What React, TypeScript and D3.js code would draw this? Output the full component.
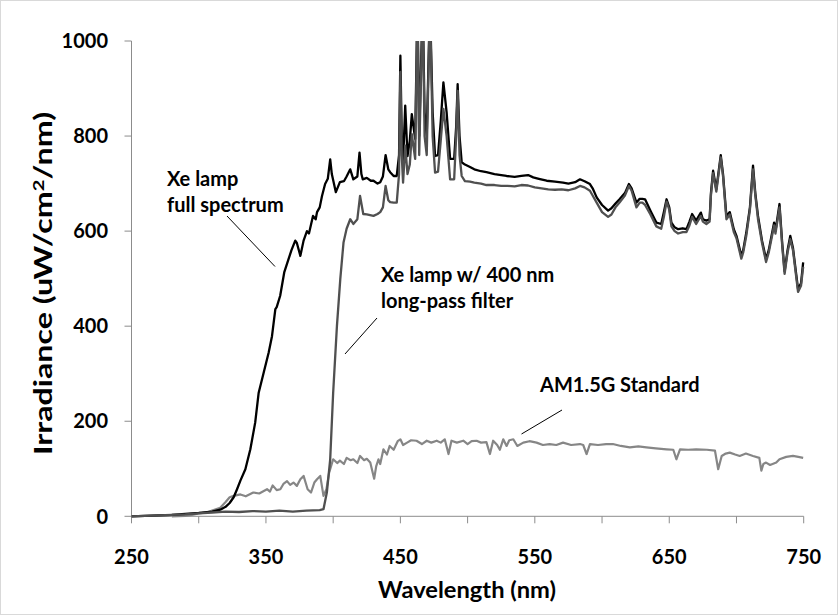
import React from "react";
import * as d3 from "d3";

// [wavelength nm, irradiance uW/cm2/nm]
const xeFull: [number, number][] = [
  [250, 0], [260, 1], [270, 2], [280, 3], [290, 5], [300, 7], [310, 10], [316, 14], [320, 20], [323, 28],
  [326, 40], [328.5, 57], [331, 75], [334.7, 99], [338.4, 141], [342, 197], [344.6, 260], [348.3, 302],
  [352, 344], [354.5, 379], [357, 436], [358, 440], [360.6, 464], [363.6, 513], [366.8, 541], [369, 560],
  [371.8, 580], [373, 575], [375.6, 548], [378, 580], [380.5, 600], [382, 595], [385, 632], [387, 625],
  [388, 640], [390, 650], [391.7, 674], [394, 699], [396, 710], [397.8, 751], [399, 720], [402, 682],
  [405, 703], [408, 705], [410, 715], [412.7, 730], [415, 709], [418, 715], [419.6, 765], [421, 720],
  [422, 709], [425, 712], [428, 706], [430, 706], [433, 700], [435, 703], [437, 715], [439, 760],
  [441, 730], [442.4, 724], [445, 716], [447.3, 716], [449, 760], [450, 969], [451, 800], [452, 745],
  [453.6, 864], [455.3, 758], [457, 790], [458.5, 846], [461, 794], [462.7, 1080], [464, 800],
  [466.6, 1080], [468, 850], [469.6, 800], [472, 1080], [474, 850], [475.8, 758], [478, 760], [480, 830],
  [482, 913], [484.4, 850], [487, 752], [490, 752], [491.5, 820], [492.6, 909], [494, 800], [495.6, 745],
  [498, 740], [501.8, 735], [505, 730], [510, 726], [514, 724], [520, 720], [525, 718], [529, 716],
  [535, 714], [540, 716], [545, 718], [548.8, 713], [553, 710], [558.8, 706], [565, 704], [571, 702],
  [575, 700], [580, 703], [583.6, 709], [587, 705], [591, 699], [593, 690], [596, 671], [600, 655],
  [604.5, 643], [607, 648], [610, 658], [613, 667], [617, 680], [620, 699], [622, 690], [625.6, 660],
  [628, 668], [630, 668], [632, 667], [634, 655], [636, 643], [640.4, 618], [644, 615], [646, 640],
  [648, 667], [650, 650], [651.6, 618], [654, 608], [656.6, 604], [660, 606], [662.8, 604], [665, 620],
  [667, 636], [670, 622], [673.5, 639], [675, 625], [677.6, 622], [680, 625], [681, 680], [682.6, 727],
  [685, 688], [688.3, 760], [690, 720], [692.5, 632], [695, 640], [698, 604], [700, 590], [703.6, 548],
  [705, 560], [707.3, 597], [710, 650], [712.3, 738], [714, 680], [716, 632], [719, 580], [722, 541],
  [724, 560], [728, 618], [729, 600], [732, 657], [734, 575], [735.8, 515], [738, 560], [740, 590],
  [742, 565], [745.8, 478], [748, 490], [749.6, 534],
];

const xeFiltered: [number, number][] = [
  [250, 0], [270, 2], [290, 4], [300, 6], [310, 8], [320, 10], [330, 9], [340, 11], [350, 10], [360, 12],
  [370, 10], [380, 12], [390, 13], [392.8, 15], [395.3, 50], [397.8, 120], [400, 260], [402.8, 400],
  [405.3, 499], [407.7, 576], [410, 605], [412.7, 625], [415, 615], [418, 625], [420, 674], [422.4, 636],
  [425, 635], [430, 632], [433, 636], [435, 640], [437, 650], [439, 695], [441, 665], [442.4, 661],
  [445, 660], [447.3, 660], [449, 720], [450, 935], [451, 760], [452, 702], [453.6, 780], [455.3, 720],
  [457, 740], [458.5, 804], [461, 752], [462.7, 1080], [464, 760], [466.6, 1080], [468, 800],
  [469.6, 760], [472, 1080], [474, 800], [475.8, 723], [478, 725], [480, 790], [482, 857], [484.4, 800],
  [487, 709], [490, 709], [491.5, 800], [492.6, 895], [494, 760], [495.6, 716], [498, 705], [501.8, 704],
  [505, 702], [510, 700], [514, 697], [520, 697], [525, 695], [530, 695], [535, 694], [540, 697],
  [545, 696], [550, 692], [555, 690], [560, 688], [565, 687], [570, 688], [575, 686], [580, 690],
  [583.6, 695], [587, 692], [591, 685], [593, 675], [596, 660], [600, 640], [604.5, 630], [607, 635],
  [610, 650], [613, 660], [617, 675], [620, 695], [622, 685], [625.6, 650], [628, 660], [630, 660],
  [632, 655], [634, 645], [636, 635], [640.4, 610], [644, 605], [646, 630], [648, 662], [650, 645],
  [651.6, 610], [654, 600], [656.6, 595], [660, 598], [662.8, 598], [665, 612], [667, 630], [670, 615],
  [673.5, 632], [675, 620], [677.6, 615], [680, 620], [681, 675], [682.6, 722], [685, 683], [688.3, 755],
  [690, 715], [692.5, 625], [695, 635], [698, 598], [700, 585], [703.6, 542], [705, 555], [707.3, 590],
  [710, 645], [712.3, 730], [714, 675], [716, 625], [719, 575], [722, 535], [724, 555], [728, 612],
  [729, 595], [732, 650], [734, 570], [735.8, 510], [738, 555], [740, 583], [742, 560], [745.8, 472],
  [748, 485], [749.6, 525],
];

const am15g: [number, number][] = [
  [280, 0], [290, 1], [295, 3], [300, 6], [306, 8], [310, 12], [316, 18], [320, 30], [323, 40], [326, 43],
  [331, 46], [335, 42], [340.6, 50], [345, 48], [350.8, 57], [353, 52], [355, 65], [358, 55], [360.7, 57],
  [363, 68], [365.7, 74], [368, 66], [370.5, 71], [373, 64], [375.6, 78], [378, 85], [381, 57],
  [383.5, 50], [386, 71], [388, 78], [390.4, 85], [392.8, 43], [395, 57], [397, 92], [400, 120],
  [403, 112], [405, 117], [408, 110], [410, 123], [413, 118], [415, 120], [418, 112], [420, 127],
  [423, 118], [425, 121], [427.6, 113], [430.5, 79], [432, 105], [433.7, 120], [435, 110], [437.4, 141],
  [440, 130], [442, 148], [445, 140], [448, 158], [450, 162], [452, 150], [455, 155], [458, 160],
  [462, 159], [466, 152], [469.6, 159], [473, 155], [477, 159], [480, 155], [483, 162], [485.8, 131],
  [488, 159], [492, 155], [496.8, 159], [500, 152], [503, 158], [506.7, 159], [510, 155], [514, 156],
  [516.6, 131], [519, 159], [522, 150], [524, 140], [526.5, 162], [529, 148], [531, 160], [534, 162],
  [537, 148], [541.4, 155], [546, 158], [551.3, 155], [556, 150], [561, 152], [566, 150], [571, 155],
  [577, 150], [583.6, 152], [586, 150], [588.5, 131], [591, 152], [597, 150], [603, 152], [608, 152],
  [614, 148], [620.7, 145], [627, 147], [633, 145], [640, 143], [648, 141], [653, 140], [655.3, 120],
  [658, 141], [664, 140], [670, 141], [678, 140], [684, 138], [686.4, 99], [689, 127], [692, 132],
  [695, 134], [699, 130], [702.4, 127], [707, 132], [712.3, 127], [717, 123], [718.5, 96], [720, 110],
  [722, 113], [725, 108], [729.6, 113], [732, 120], [737, 125], [742, 127], [746, 125], [749.6, 123],
];

const xTickValues = [250, 300, 350, 400, 450, 500, 550, 600, 650, 700, 750];
const xLabelValues = [250, 350, 450, 550, 650, 750];
const yTickValues = [0, 200, 400, 600, 800, 1000];

const FONT = "Lato, 'Open Sans', sans-serif";

export default function App() {
  const W = 838;
  const H = 615;
  const x = d3.scaleLinear().domain([250, 750]).range([131.5, 803.7]);
  const y = d3.scaleLinear().domain([0, 1000]).range([516.3, 41]);
  const line = d3
    .line<[number, number]>()
    .x((d) => x(d[0]))
    .y((d) => y(d[1]));

  return (
    <svg
      width={W}
      height={H}
      style={{ position: "absolute", left: 0, top: 0, display: "block", background: "#fff" }}
      fontFamily={FONT}
    >
      <rect x={0.5} y={0.5} width={W - 1} height={H - 1} fill="#fff" stroke="#d9d9d9" />
      <defs>
        <clipPath id="plotClip">
          <rect x={x(250)} y={y(1000)} width={x(750) - x(250) + 4} height={y(0) - y(1000) + 4} />
        </clipPath>
      </defs>

      {/* axes */}
      <line x1={x(250)} x2={x(750)} y1={y(0)} y2={y(0)} stroke="#8c8c8c" strokeWidth={1} />
      <line x1={x(250)} x2={x(250)} y1={y(0)} y2={y(1000)} stroke="#8c8c8c" strokeWidth={1} />
      {xTickValues.map((t) => (
        <line key={"xt" + t} x1={x(t)} x2={x(t)} y1={y(0)} y2={y(0) + 7} stroke="#8c8c8c" />
      ))}
      {yTickValues.map((t) => (
        <line key={"yt" + t} x1={x(250) - 7} x2={x(250)} y1={y(t)} y2={y(t)} stroke="#8c8c8c" />
      ))}
      {xLabelValues.map((t) => (
        <text key={"xl" + t} x={x(t)} y={564} textAnchor="middle" fontSize={20} fontWeight="bold" fill="#000">
          {t}
        </text>
      ))}
      {yTickValues.map((t) => (
        <text key={"yl" + t} x={108} y={y(t) + 7.2} textAnchor="end" fontSize={20} fontWeight="bold" fill="#000">
          {t}
        </text>
      ))}

      {/* series */}
      <g clipPath="url(#plotClip)" fill="none" strokeLinejoin="round">
        <path d={line(am15g) || ""} stroke="#868686" strokeWidth={2.2} />
        <path d={line(xeFull) || ""} stroke="#000" strokeWidth={2.3} />
        <path d={line(xeFiltered) || ""} stroke="#505050" strokeWidth={2.3} />
      </g>

      {/* annotations */}
      <g fontSize={20} fontWeight="bold" fill="#000">
        <text x={167} y={186}>Xe lamp</text>
        <text x={167} y={212}>full spectrum</text>
        <text x={381} y={282}>Xe lamp w/ 400 nm</text>
        <text x={381} y={308}>long-pass filter</text>
        <text x={540} y={392}>AM1.5G Standard</text>
      </g>
      <line x1={227} y1={216} x2={275} y2={266.5} stroke="#000" strokeWidth={1} />
      <line x1={377} y1={318} x2={345} y2={354} stroke="#000" strokeWidth={1} />
      <line x1={562} y1={410} x2={521.5} y2={434} stroke="#000" strokeWidth={1} />

      {/* axis titles */}
      <text x={467} y={598} textAnchor="middle" fontSize={22} fontWeight="bold" textLength={178} lengthAdjust="spacingAndGlyphs">
        Wavelength (nm)
      </text>
      <text
        transform={`translate(52, 283.5) rotate(-90)`}
        textAnchor="middle"
        fontSize={24}
        fontWeight="bold"
        textLength={343}
        lengthAdjust="spacingAndGlyphs"
      >
        Irradiance (uW/cm<tspan dy={-8} fontSize={15}>2</tspan><tspan dy={8}>/nm)</tspan>
      </text>
    </svg>
  );
}
